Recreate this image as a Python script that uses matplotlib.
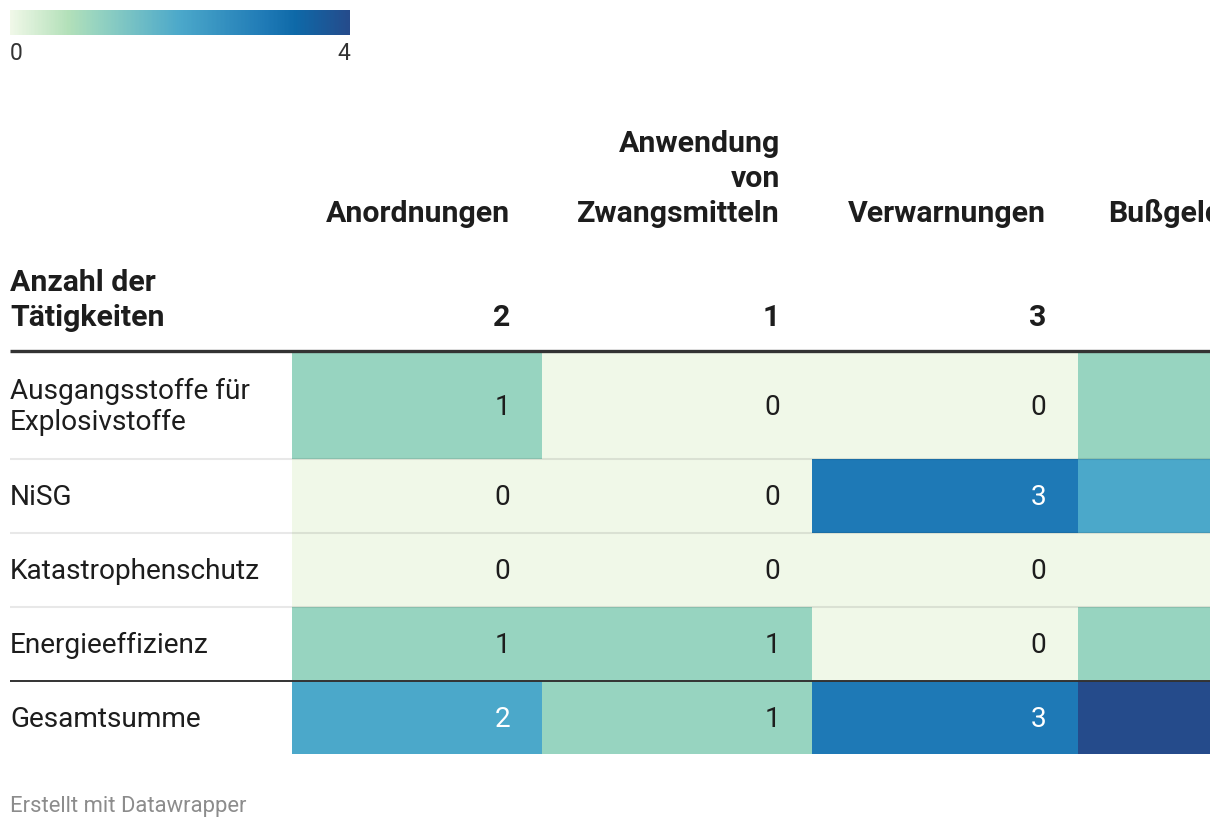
import numpy as np
import matplotlib
matplotlib.use("Agg")
import matplotlib.pyplot as plt
from matplotlib.colors import LinearSegmentedColormap, Normalize
from matplotlib.cm import ScalarMappable

plt.rcParams['font.family'] = ['Roboto', 'DejaVu Sans']

# data
row_labels = ["Ausgangsstoffe für\nExplosivstoffe", "NiSG", "Katastrophenschutz",
              "Energieeffizienz", "Gesamtsumme"]
col_labels = ["Anordnungen", "Anwendung\nvon\nZwangsmitteln", "Verwarnungen", "Bußgeldverfahren"]
col_totals = [2, 1, 3, 4]
values = np.array([
    [1, 0, 0, 1],
    [0, 0, 3, 2],
    [0, 0, 0, 0],
    [1, 1, 0, 1],
    [2, 1, 3, 4],
])
vmin, vmax = 0, 4

# layout (pixels)
W, H = 1220, 830
col_edges = [292, 542, 812, 1078, 1385]
row_edges = [352, 459, 533, 607, 681, 754]
pad = 32

cmap = LinearSegmentedColormap.from_list("dw", [
    (0.0, "#f0f8e8"), (0.17, "#b3e0b9"), (0.25, "#97d4c0"), (0.5, "#4ba8ca"),
    (0.75, "#1f7ab6"), (0.84, "#0e69a8"), (1.0, "#254b8b")])
norm = Normalize(vmin, vmax)

fig = plt.figure(figsize=(W / 100, H / 100), dpi=100)
ax = fig.add_axes([0, 0, 1210 / W, 1])
ax.set_xlim(0, 1210)
ax.set_ylim(H, 0)
ax.axis("off")

ax.pcolormesh(col_edges, row_edges, values, cmap=cmap, norm=norm, shading="flat")

dark = "#1d1d1d"
body = 20.2
head = 21.8

# header
for j, lab in enumerate(col_labels):
    xr = col_edges[j + 1] - pad
    ax.text(xr, 222, lab, ha="right", va="baseline", fontsize=head, fontweight="bold",
            color=dark, linespacing=1.32, clip_on=True)
    ax.text(xr, 326, str(col_totals[j]), ha="right", va="baseline", fontsize=head,
            fontweight="bold", color=dark, clip_on=True)
ax.text(10, 326, "Anzahl der\nTätigkeiten", ha="left", va="baseline", fontsize=head,
        fontweight="bold", color=dark, linespacing=1.32)

# rows
for i, lab in enumerate(row_labels):
    yc = (row_edges[i] + row_edges[i + 1]) / 2
    ax.text(10, yc + 1.5, lab, ha="left", va="center", fontsize=body, color=dark, linespacing=1.2)
    for j in range(values.shape[1]):
        v = values[i, j]
        ax.text(col_edges[j + 1] - pad, yc + 1.5, str(v), ha="right", va="center", fontsize=body,
                color="white" if v >= 2 else dark, clip_on=True)

# rules
ax.plot([10, 1210], [row_edges[0] - 1, row_edges[0] - 1], color="#333333", lw=2.4,
        solid_capstyle="butt")
for y in row_edges[1:-2]:
    ax.plot([10, 1210], [y, y], color="black", alpha=0.09, lw=1.5, solid_capstyle="butt")
ax.plot([10, 1210], [row_edges[-2], row_edges[-2]], color="#333333", lw=1.4,
        solid_capstyle="butt")

# footer
ax.text(10, 806, "Erstellt mit Datawrapper", ha="left", va="center", fontsize=15.8,
        color="#8c8c8c")

# legend
cax = fig.add_axes([10 / W, 1 - 35 / H, 340 / W, 25 / H])
cb = fig.colorbar(ScalarMappable(norm=norm, cmap=cmap), cax=cax, orientation="horizontal")
cb.outline.set_visible(False)
cb.set_ticks([vmin, vmax])
cax.tick_params(length=0, labelsize=16.5, labelcolor="#333333", pad=5)
labels = cax.get_xticklabels()
labels[0].set_horizontalalignment("left")
labels[-1].set_horizontalalignment("right")

fig.savefig("out.png", dpi=100)
